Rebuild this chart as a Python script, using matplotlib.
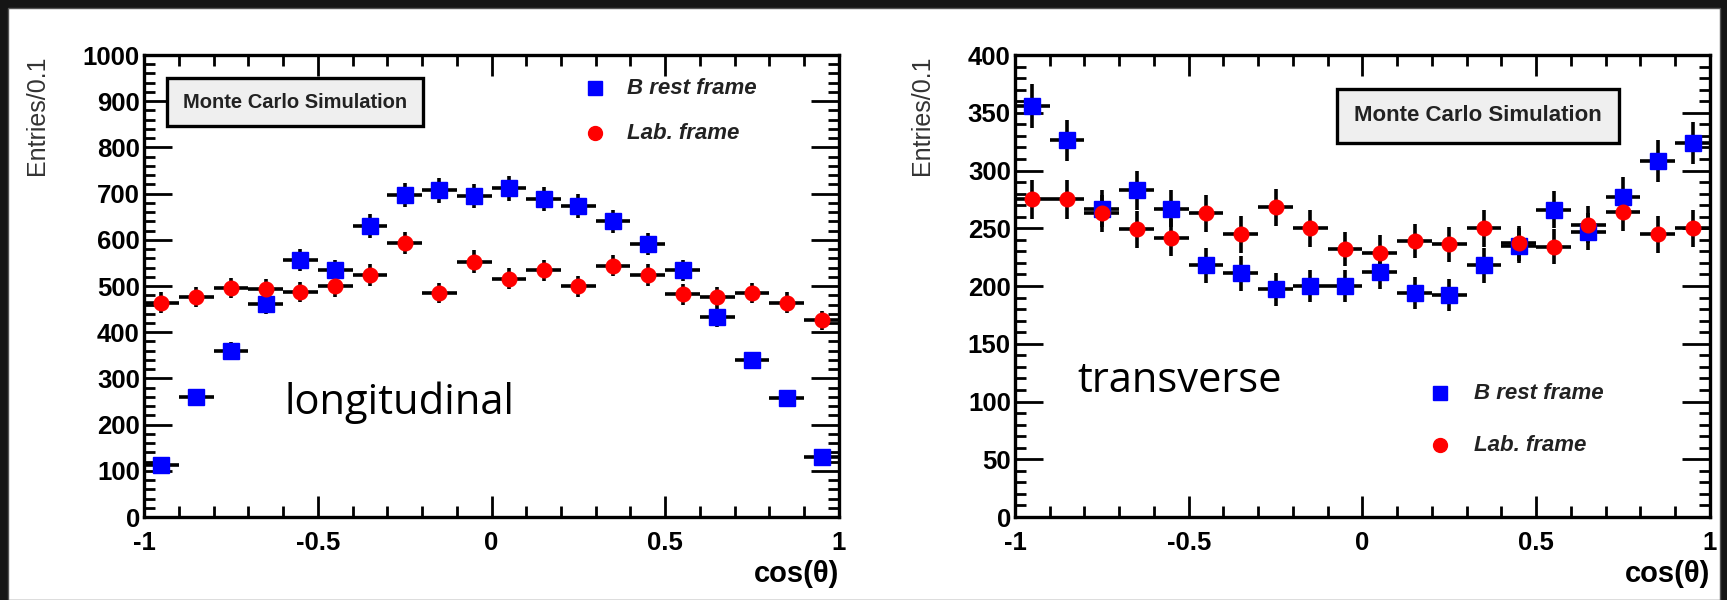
import numpy as np
import matplotlib.pyplot as plt
from matplotlib.patches import Rectangle
from matplotlib.ticker import MultipleLocator

# bin centres in cos(theta)
cos_theta = [-0.95, -0.85, -0.75, -0.65, -0.55, -0.45, -0.35, -0.25, -0.15, -0.05,
             0.05, 0.15, 0.25, 0.35, 0.45, 0.55, 0.65, 0.75, 0.85, 0.95]
bin_half = 0.05

# longitudinal panel
long_brest = [113, 260, 360, 461, 557, 534, 630, 697, 707, 695,
              712, 688, 674, 640, 591, 534, 433, 339, 258, 129]
long_brest_err = [11, 16, 19, 21, 24, 23, 25, 26, 27, 26,
                  27, 26, 26, 25, 24, 23, 21, 18, 16, 11]
long_lab = [464, 476, 495, 493, 487, 499, 524, 593, 485, 553,
            516, 534, 499, 544, 524, 482, 476, 485, 464, 426]
long_lab_err = [22, 22, 22, 22, 22, 22, 23, 24, 22, 24,
                23, 23, 22, 23, 23, 22, 22, 22, 22, 21]

# transverse panel
trans_brest = [356, 326, 267, 283, 267, 218, 211, 197, 200, 200,
               212, 194, 192, 218, 235, 266, 247, 277, 308, 324]
trans_brest_err = [19, 18, 16, 17, 16, 15, 15, 14, 14, 14,
                   15, 14, 14, 15, 15, 16, 16, 17, 18, 18]
trans_lab = [275, 275, 263, 249, 242, 263, 245, 268, 250, 232,
             229, 239, 236, 250, 237, 234, 253, 264, 245, 250]
trans_lab_err = [17, 17, 16, 16, 16, 16, 16, 16, 16, 15,
                 15, 15, 15, 16, 15, 15, 16, 16, 16, 16]

tick_font = {'family': 'Liberation Sans', 'weight': 'bold', 'size': 18.5}


def draw_panel(ax, ymax, ymajor, yminor, brest, brest_err, lab, lab_err):
    for vals, errs, color, marker, ms in [(brest, brest_err, '#0000ff', 's', 11),
                                          (lab, lab_err, '#ff0000', 'o', 10.5)]:
        ax.errorbar(cos_theta, vals, yerr=errs, xerr=bin_half, fmt='none',
                    ecolor='black', elinewidth=2.6, capsize=0, zorder=3)
        ax.plot(cos_theta, vals, linestyle='none', marker=marker, ms=ms,
                mfc=color, mec=color, zorder=4)
    ax.set_xlim(-1, 1)
    ax.set_ylim(0, ymax)
    ax.xaxis.set_major_locator(MultipleLocator(0.5))
    ax.xaxis.set_minor_locator(MultipleLocator(0.1))
    ax.yaxis.set_major_locator(MultipleLocator(ymajor))
    ax.yaxis.set_minor_locator(MultipleLocator(yminor))
    ax.tick_params(which='both', direction='in', top=True, right=True, width=2)
    ax.tick_params(axis='x', which='major', length=15, pad=10)
    ax.tick_params(axis='x', which='minor', length=8)
    ax.tick_params(axis='y', which='major', length=20, pad=3)
    ax.tick_params(axis='y', which='minor', length=8)
    ax.set_xticks([-1, -0.5, 0, 0.5, 1])
    ax.set_xticklabels(['-1', '-0.5', '0', '0.5', '1'])
    for lbl in ax.get_xticklabels() + ax.get_yticklabels():
        lbl.set_fontproperties(tick_font)
    for sp in ax.spines.values():
        sp.set_linewidth(2.4)
    ax.set_xlabel('cos(θ)', fontsize=21, fontweight='bold', family='Liberation Sans',
                  loc='right', labelpad=4)
    ax.set_ylabel('Entries/0.1', fontsize=18, family='Liberation Sans', color='#333333',
                  loc='top', labelpad=24)


def mc_box(ax, x0, y0, x1, y1, size):
    ax.add_patch(Rectangle((x0, y0), x1 - x0, y1 - y0, facecolor='#efefef',
                           edgecolor='black', lw=2.4, zorder=5))
    ax.text((x0 + x1) / 2, (y0 + y1) / 2, 'Monte Carlo Simulation', ha='center', va='center',
            fontsize=size, fontweight='bold', family='Liberation Sans', color='#222222', zorder=6)


def legend(ax, xm, xt, y1, y2):
    ax.plot([xm], [y1], 's', ms=10.5, color='#0000ff', zorder=6)
    ax.plot([xm], [y2], 'o', ms=10, color='#ff0000', zorder=6)
    ax.text(xt, y1, 'B rest frame', va='center', fontsize=16, fontweight='bold',
            style='italic', family='Liberation Sans', color='#222222')
    ax.text(xt, y2, 'Lab. frame', va='center', fontsize=16, fontweight='bold',
            style='italic', family='Liberation Sans', color='#222222')


fig = plt.figure(figsize=(17.27, 6.0), dpi=100, facecolor='#151515')
fig.patches.append(Rectangle((8 / 1727, 0), 1712 / 1727, 592 / 600, transform=fig.transFigure,
                             facecolor='white', edgecolor='#555555', lw=1, zorder=-1))

ax1 = fig.add_axes([0.0834, 0.1383, 0.4024, 0.77])
draw_panel(ax1, 1000, 100, 20, long_brest, long_brest_err, long_lab, long_lab_err)
mc_box(ax1, -0.933, 846, -0.198, 950, 14.5)
legend(ax1, 0.297, 0.39, 928, 831)
ax1.text(-0.595, 248, 'longitudinal', fontsize=30, family='Open Sans', va='center')

ax2 = fig.add_axes([0.5877, 0.1383, 0.4024, 0.77])
draw_panel(ax2, 400, 50, 10, trans_brest, trans_brest_err, trans_lab, trans_lab_err)
mc_box(ax2, -0.074, 324, 0.737, 371, 16)
legend(ax2, 0.222, 0.32, 107, 62)
ax2.text(-0.82, 118, 'transverse', fontsize=30, family='Open Sans', va='center')

fig.savefig('out.png', dpi=100, facecolor=fig.get_facecolor())
